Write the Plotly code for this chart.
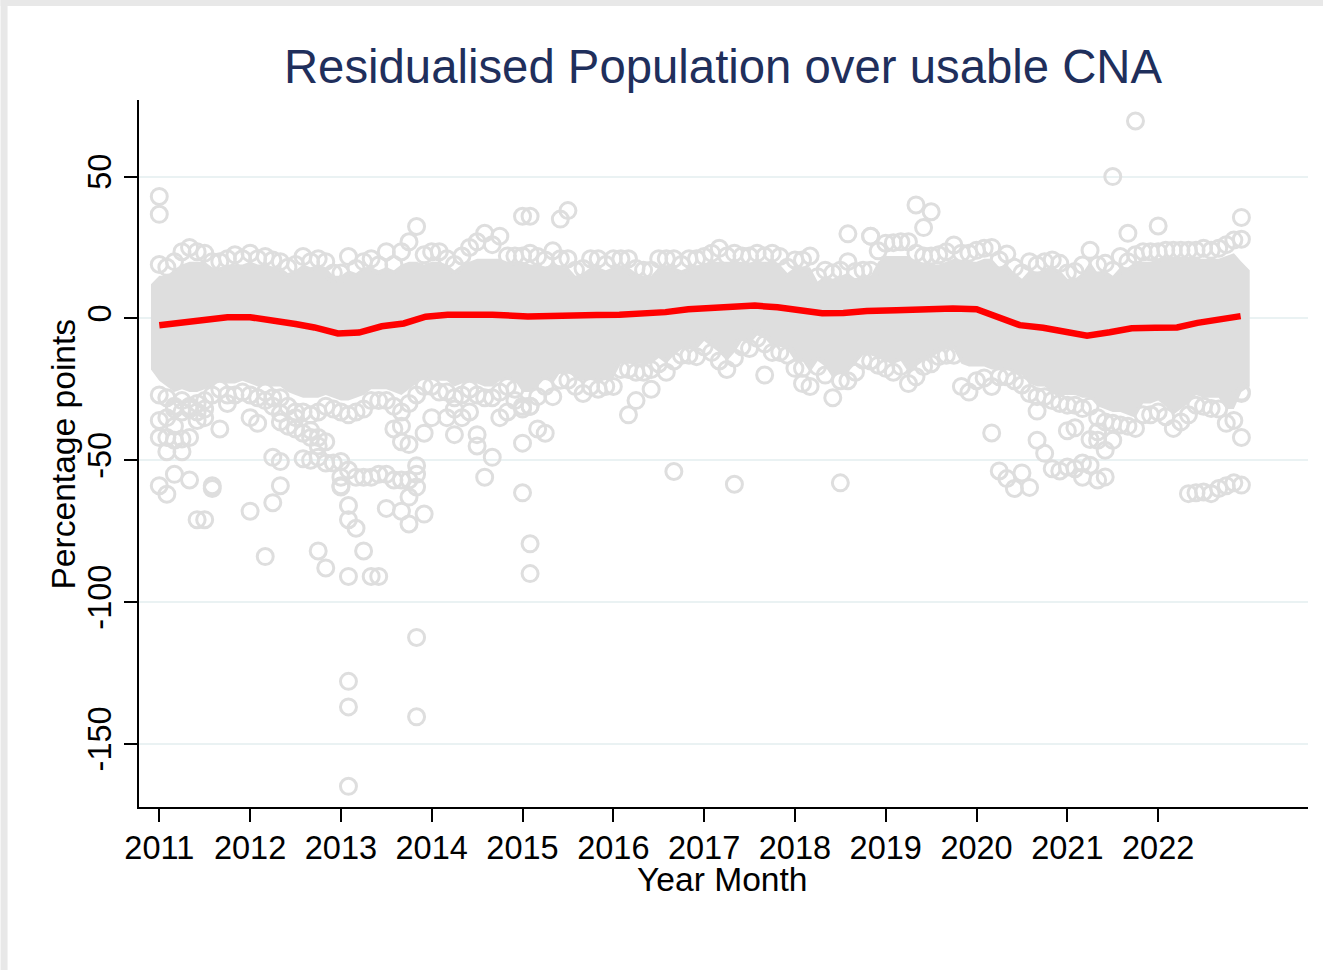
import plotly.graph_objects as go

TITLE = "Residualised Population over usable CNA"
YEARS = [str(y) for y in range(2011, 2023)]
YEAR_TICKS = [0, 12, 24, 36, 48, 60, 72, 84, 96, 108, 120, 132]
Y_TICKS = [50, 0, -50, -100, -150]
Y_LABELS = ["50", "0", "-50", "-100", "-150"]

months = list(range(144))

upper_edge = [19,18,20,23.5,25,23.5,23,20,20,21,
22.4,21,23,21,21.8,20.6,20,18,19,21.8,
20,21,20,16,16,21.8,17.6,20,21,18.8,
23.5,19,23.5,27,32.4,22.4,23.5,23.5,21,19,
22,25,27,30,26,29,22,22,22,23,
21.8,20.6,23.8,21,21,17,17.6,21,21,19,
21,21,21,17.6,17,17,21,21,21,19,
21,21,21.8,23,24.7,22,23,22,22,23,
22,23,21.8,18,20.6,20.6,22,14.7,17,16,
17,20,16.5,17,17,23.8,26.5,26.7,27,27,
23,22,22,22.4,23.5,25.9,23,23,24,24.7,
25,20.6,22.7,18,16,20,18.8,20,20.6,19.4,
16,16.5,18.8,24,18.8,19.4,17,21.8,20,22.4,
23.5,23.5,23.5,24,24,24,24,24,24.7,24,
24.7,26,27.6,27.9]

lower_edge = [-27,-28,-31,-29,-31,-30,-29,-27,-25,-27,
-27,-26,-27,-28,-26,-28,-28,-31,-33,-33,
-34,-33,-31,-32,-33,-34,-33,-32,-29,-29,
-29,-31,-33,-30,-27,-24,-24,-26,-26,-28,
-27,-25,-27,-28,-28,-26,-24,-25,
-31,-31,-27.6,-24,-27.6,-21.8,-21.8,-24,-26.5,-24,
-25,-24,-24,-18,-18,-19,-19,-18,-16,-19,
-15,-13,-13,-13.5,-10,-12,-15,-18,-14,-10,
-10.6,-7,-9,-12,-12,-13,-17.6,-17.6,-24,-17,
-20,-28,-22,-22,-19,-14.7,-15,-16.5,-17.6,-19,
-17,-23,-20.6,
-17,-16,-13.5,-13,-13,-24,-26,-22,-21,
-24,-20.6,-20.6,-22,-23.5,-26.5,-27.6,-27.6,-29,-30,
-30.6,-30.6,-31.8,-31,-35,-36.5,-37,-37.6,-38,-38.8,
-34,-34,-33,-34.7,-38.8,-36.5,-34,-30.6,-31,-31.8,
-32,-37,-36,-26.5]

extra_m = [0,0,0,0,0,1,1,1,1,2,2,2,2,3,3,3,4,4,4,5,5,5,6,6,6,7,7,8,9,12,12,13,14,14,15,15,15,16,16,16,16,17,18,18,
19,19,20,20,20,21,21,21,21,22,22,22,23,24,24,24,24,25,25,25,25,25,25,25,26,26,27,27,28,28,29,29,30,30,31,31,32,32,32,32,
33,33,33,33,34,34,34,34,34,35,35,36,38,39,39,40,41,42,42,43,44,45,46,47,48,48,48,48,49,49,49,49,50,51,53,54,
62,63,65,68,76,80,85,90,91,94,94,100,101,102,110,111,112,113,114,115,116,116,117,118,119,120,120,121,121,122,122,123,123,124,124,124,125,125,126,126,128,129,132,
136,137,138,139,140,141,142,143,143,143,143]
extra_v = [43,36.7,-36,-42,-59,-35,-42,-47,-62,-32,-38,-43,-55,-33,-42.5,-47,-42,-32,-57,-33,-36,-71,-32,-35,-71,-59,-60,-39,-30,-35,-68,-37,-29,-84,-31,-49,-65,-36.5,-33.5,-50.5,-59,-38,-35,-39,
-40.5,-49.5,-39.5,-42,-50,-42,-45,-49,-82,-43.5,-51,-88,-51,-50.5,-56,-59,-59.5,-53.5,-66,-71,-91,-128,-137,-165,-56,-74,-56,-82,-56,-91,-55,-91,-55,-67,-39,-57,-38,-43.5,-57,-68,
-44.5,-57,-63,-72.5,-52,-55,-59.5,-112.5,-140.5,-40.5,-69,-35,-35,-32,-41,-35,-33,-41,-45,-56,-49,-35,-33,-29,-32,-44,-61.5,36,-31,-79.5,-90,36,-39,-40.5,35,38,
-34,-29,-25,-54,-58.5,-20,-23,-58,29.8,29,29,40,32,37.6,-40.4,-53.8,-56.5,-60,-54.5,-59.6,-32.7,-43,-47.6,-53,-53.8,-52.4,-39.6,-53,-38.6,-51,-56,-51.8,-42.7,-57,-40,-43,-55.9,-46.5,50,-43,30,69.6,32.6,
-61.8,-61.5,-61.2,-61.8,-60,-59,-58,-58.8,35.6,-42,-26]

core_months = [-1.1] + months + [144.1]
core_hi = [12,15,15,17,19,20,20,20,18,18,19,
19,19,20,19,19,18,18,16,17,19,
18,19,18,15,15,17,16,18,18,17,
18,17,19,20,20,19,20,20,19,17,
19,20,21,21,21,21,20,20,20,19,
19,18,19,18,18,15,16,18,18,17,
18,18,18,16,15,15,18,18,18,17,
18,18,19,20,20,20,20,20,19,20,
20,20,19,16,18,18,18,13,15,14,
15,16,14,15,15,20,22,22,22,22,
20,19,19,19,20,21,20,20,20,21,
21,18,19,16,14,17,16,17,18,17,
14,14,16,20,16,17,15,18,18,20,
20,20,21,21,21,21,21,21,21,21,
21,22,23,20,17]
core_lo = [-18,-22,-24,-26,-25,-26,-26,-25,-24,-22,-23,
-23,-22,-23,-24,-23,-24,-24,-26,-27,-28,
-28,-28,-27,-28,-29,-29,-28,-27,-25,-25,
-25,-26,-27,-25,-23,-21,-21,-22,-22,-24,
-23,-22,-23,-24,-24,-22,-21,-22,
-26,-26,-24,-21,-23,-19,-19,-21,-22,-21,
-22,-21,-21,-16,-16,-16,-16,-16,-14,-16,
-13,-11,-11,-11,-8,-10,-12,-15,-12,-8,
-9,-6,-7,-10,-10,-11,-15,-15,-19,-15,
-17,-21,-19,-19,-16,-13,-13,-14,-15,-16,
-15,-19,-17,
-15,-14,-12,-11,-11,-16,-17,-17,-17,
-18,-18,-18,-19,-20,-23,-24,-24,-26,-27,
-27,-27,-28,-28,-31,-32,-33,-33,-34,-35,
-30,-30,-29,-31,-34,-32,-30,-27,-28,-28,
-28,-32,-32,-26,-24]

red_months = [0,3,6,9,12,15,18,20.5,23.6,26.4,29.4,32.3,35.2,38.1,41,44,48.7,51.7,54.7,57.8,60.8,63.8,66.9,69.9,73,76,78.7,81.7,84.7,87.6,90.4,93.5,97.4,100.5,104.9,108,111.1,113.7,116.8,119.7,122.6,125.6,128.5,131.6,134.5,137.2,140.1,142.9]
red_values = [-2.4,-1.5,-0.8,0.4,0.4,-0.6,-2.0,-3.2,-5.3,-5.0,-2.8,-1.8,0.6,1.3,1.3,1.3,0.7,1.0,1.2,1.2,1.3,1.5,2.2,3.2,3.6,4.0,4.5,3.9,2.8,1.8,1.9,2.6,2.9,3.2,3.5,3.2,0.4,-2.4,-3.3,-4.6,-6.1,-4.9,-3.5,-3.3,-3.2,-1.6,-0.2,0.8]

GRAY = "#dedede"
fig = go.Figure()
fig.add_trace(go.Scatter(x=core_months + core_months[::-1], y=core_hi + core_lo[::-1], fill="toself",
                         fillcolor=GRAY, line=dict(width=0), mode="lines", hoverinfo="skip"))
fig.add_trace(go.Scatter(x=months + months + extra_m, y=upper_edge + lower_edge + extra_v, mode="markers",
                         marker=dict(symbol="circle-open", size=16, color=GRAY, line=dict(width=3, color=GRAY))))
fig.add_trace(go.Scatter(x=red_months, y=red_values, mode="lines", line=dict(color="#ff0000", width=6.5)))

F = "Liberation Sans, Arial, sans-serif"
L, R, T, B = 138.5, 1308, 100, 807
W, H = R - L, B - T
def px(x): return (x - L) / W
def py(y): return (B - y) / H
fig.update_layout(
    width=1323, height=970, autosize=False, showlegend=False,
    margin=dict(l=L, r=1323 - R, t=T, b=970 - B, pad=0),
    paper_bgcolor="white", plot_bgcolor="white",
    font=dict(family=F, color="black", size=32),
    title=dict(text=TITLE, x=723 / 1323, xref="container", xanchor="center", y=1 - 66 / 970, yanchor="middle",
               font=dict(family=F, size=47.3, color="#1f2f5c")),
    xaxis=dict(range=[-2.68, 151.8], tickvals=YEAR_TICKS, ticktext=YEARS, showgrid=False, zeroline=False,
               showline=True, linecolor="black", linewidth=1.6, ticks="outside", ticklen=13, tickwidth=1.6,
               tickcolor="black", tickfont=dict(size=32.5, family=F), tickangle=0, ticklabelstandoff=-2),
    yaxis=dict(range=[-172.3, 77], tickvals=Y_TICKS, ticktext=Y_LABELS, showgrid=True, gridcolor="#eaf2f3",
               gridwidth=2, zeroline=False, showline=True, linecolor="black", linewidth=1.6, ticks="outside",
               ticklen=13, tickwidth=1.6, tickcolor="black", tickfont=dict(size=32.5, family=F), tickangle=-90),
    annotations=[
        dict(text="Year Month", xref="paper", yref="paper", x=px(722), y=py(880), xanchor="center", yanchor="middle",
             showarrow=False, font=dict(size=33.6, family=F, color="black")),
        dict(text="Percentage points", xref="paper", yref="paper", x=px(62), y=py(454), xanchor="center",
             yanchor="middle", textangle=-90, showarrow=False, font=dict(size=33.6, family=F, color="black")),
    ],
    shapes=[
        dict(type="rect", xref="paper", yref="paper", x0=px(0), x1=px(7), y0=py(970), y1=py(0),
             fillcolor="#e8e8e8", line_width=0, layer="below"),
        dict(type="rect", xref="paper", yref="paper", x0=px(0), x1=px(1323), y0=py(6), y1=py(0),
             fillcolor="#e8e8e8", line_width=0, layer="below"),
    ],
)
fig.write_html("out.html", post_script="document.body.style.margin='0';", config={"displayModeBar": False})
